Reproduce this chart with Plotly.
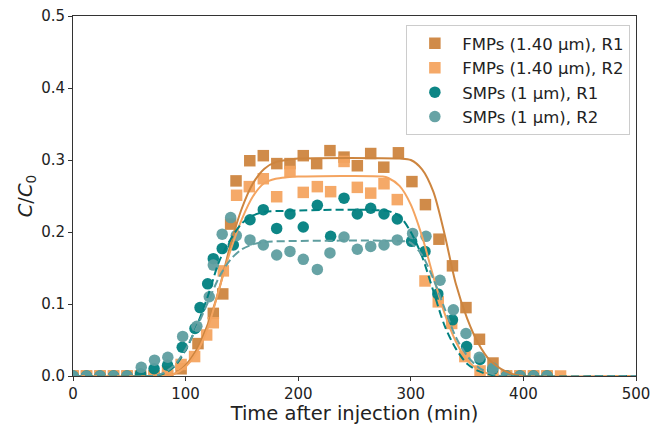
import plotly.graph_objects as go

# ---- observed data ----
fmp_r1_t = [0, 12, 24, 36, 48, 60, 72, 84, 96, 111, 124.6, 133, 140, 144.8, 157, 169, 181, 192.7,
            204.5, 216.4, 228.2, 240.7, 252.5, 264.4, 276, 289, 301, 313, 325, 337, 349, 361, 373,
            385, 397, 409, 421]
fmp_r1_v = [0, 0, 0, 0, 0, 0, 0, 0, 0.01, 0.045, 0.087, 0.114, 0.211, 0.271, 0.299, 0.306, 0.295, 0.295,
            0.306, 0.295, 0.313, 0.304, 0.292, 0.309, 0.290, 0.310, 0.270, 0.238, 0.190, 0.153, 0.095,
            0.051, 0.018, 0, 0, 0, 0]

fmp_r2_t = [0, 12, 24, 36, 48, 60, 72, 84, 96, 108, 118.7, 124.6, 133.5, 145.3, 156.6, 169, 180.9,
            192.7, 204.5, 217, 228.8, 240.7, 252.5, 264.4, 276.2, 288, 312.6, 324.4, 336.3, 348,
            361.5, 373, 385, 397, 409, 421, 433]
fmp_r2_v = [0, 0, 0, 0, 0, 0, 0, 0.006, 0.016, 0.027, 0.057, 0.074, 0.146, 0.251, 0.263, 0.274, 0.249,
            0.284, 0.255, 0.263, 0.256, 0.298, 0.262, 0.254, 0.267, 0.245, 0.132, 0.103, 0.073, 0.027,
            0.007, 0, 0, 0, 0, 0, 0]

smp_r1_t = [0, 12, 24, 36, 48, 60, 72, 84, 97, 108.3, 112.8, 119.6, 124.6, 132.5, 142.4, 157.2, 169,
            180.9, 192.7, 204.5, 217, 228.8, 240.7, 252.5, 264.4, 276.2, 288, 300.7, 312.6, 324,
            337, 349.6, 361.5, 372.7, 385, 397, 409, 421]
smp_r1_v = [0, 0, 0, 0, 0, 0.003, 0.01, 0.015, 0.04, 0.066, 0.095, 0.128, 0.163, 0.177, 0.182, 0.217,
            0.231, 0.205, 0.225, 0.207, 0.237, 0.194, 0.247, 0.225, 0.233, 0.225, 0.218, 0.187, 0.173,
            0.114, 0.078, 0.041, 0.023, 0.009, 0, 0, 0, 0]

smp_r2_t = [0, 12, 24, 36, 48, 60.6, 72.4, 84.2, 97.4, 110, 121, 124.6, 132.5, 140, 145, 157.2, 169,
            180.9, 192.7, 204.5, 217, 228.2, 240.7, 252.5, 264.4, 276.2, 288, 301.6, 313.5, 326,
            337.8, 349, 360.8, 373, 385, 397, 409, 421]
smp_r2_v = [0, 0, 0, 0, 0, 0.012, 0.022, 0.026, 0.055, 0.069, 0.11, 0.154, 0.197, 0.22, 0.195, 0.189,
            0.182, 0.168, 0.173, 0.162, 0.148, 0.171, 0.193, 0.176, 0.180, 0.182, 0.189, 0.198, 0.194,
            0.133, 0.092, 0.059, 0.026, 0.011, 0, 0, 0, 0]

# ---- fitted curves ----
fit_fmp_r1_t = [0, 80, 90, 100, 110, 120, 130, 140, 150, 160, 170, 180, 190, 200, 290, 300, 310, 320,
                330, 340, 350, 360, 370, 380, 390, 400, 500]
fit_fmp_r1_v = [0, 0, 0.003, 0.015, 0.037, 0.073, 0.122, 0.183, 0.233, 0.268, 0.288, 0.297, 0.300,
                0.302, 0.302, 0.300, 0.287, 0.256, 0.197, 0.128, 0.080, 0.045, 0.022, 0.010, 0.003, 0, 0]

fit_fmp_r2_t = [0, 80, 90, 100, 110, 120, 130, 140, 150, 160, 170, 180, 190, 200, 275, 280, 290, 300,
                310, 320, 330, 340, 350, 360, 370, 380, 500]
fit_fmp_r2_v = [0, 0, 0.003, 0.013, 0.033, 0.068, 0.122, 0.175, 0.218, 0.250, 0.268, 0.274, 0.276,
                0.277, 0.277, 0.275, 0.264, 0.238, 0.194, 0.138, 0.087, 0.048, 0.022, 0.009, 0.003, 0, 0]

fit_smp_r1_t = [0, 70, 80, 90, 100, 110, 120, 130, 140, 150, 160, 170, 180, 280, 290, 300, 310, 320,
                330, 340, 350, 360, 370, 380, 500]
fit_smp_r1_v = [0, 0, 0.003, 0.013, 0.036, 0.070, 0.112, 0.160, 0.190, 0.212, 0.223, 0.228, 0.229,
                0.229, 0.222, 0.200, 0.166, 0.118, 0.070, 0.038, 0.017, 0.007, 0.002, 0, 0]

fit_smp_r2_t = [0, 70, 80, 90, 100, 110, 120, 130, 140, 150, 160, 170, 180, 295, 300, 310, 320, 330,
                340, 350, 360, 370, 380, 500]
fit_smp_r2_v = [0, 0, 0.004, 0.015, 0.037, 0.068, 0.103, 0.138, 0.162, 0.176, 0.183, 0.186, 0.187,
                0.187, 0.185, 0.168, 0.135, 0.094, 0.054, 0.028, 0.012, 0.004, 0, 0]

labels = ["FMPs (1.40 μm), R1", "FMPs (1.40 μm), R2", "SMPs (1 μm), R1", "SMPs (1 μm), R2"]
colors = ["#CD853F", "#F4A460", "#008080", "#5F9EA0"]
symbols = ["square", "square", "circle", "circle"]

obs = [(fmp_r1_t, fmp_r1_v), (fmp_r2_t, fmp_r2_v), (smp_r1_t, smp_r1_v), (smp_r2_t, smp_r2_v)]
fits = [(fit_fmp_r1_t, fit_fmp_r1_v), (fit_fmp_r2_t, fit_fmp_r2_v),
        (fit_smp_r1_t, fit_smp_r1_v), (fit_smp_r2_t, fit_smp_r2_v)]
dashes = ["solid", "solid", "8px,4px", "8px,4px"]

fig = go.Figure()
for (t, v), lab, c, s in zip(obs, labels, colors, symbols):
    fig.add_trace(go.Scatter(x=t, y=v, mode="markers", name=lab,
                             marker=dict(symbol=s, size=11.5, color=c,
                                         opacity=0.95, line=dict(width=0))))
for (t, v), c, d in zip(fits, colors, dashes):
    fig.add_trace(go.Scatter(x=t, y=v, mode="lines", showlegend=False, hoverinfo="skip",
                             line=dict(color=c, width=2, dash=d, shape="spline", smoothing=0.8)))

axis_common = dict(showline=True, linecolor="#333333", linewidth=1, mirror=True, ticks="outside",
                   ticklen=4, tickcolor="#333333", showgrid=False, zeroline=False, automargin=False,
                   ticklabeloverflow="allow",
                   tickfont=dict(family="DejaVu Sans", size=15, color="#222222"))
fig.update_xaxes(range=[0, 500], tickvals=[0, 100, 200, 300, 400, 500],
                 title=dict(text="Time after injection (min)", standoff=4,
                            font=dict(family="DejaVu Sans", size=19.5, color="#222222")),
                 **axis_common)
fig.update_yaxes(range=[0, 0.5], tickvals=[0, 0.1, 0.2, 0.3, 0.4, 0.5], tickformat=".1f",
                 title=dict(text="<i>C</i>/<i>C</i><sub>0</sub>", standoff=3,
                            font=dict(family="DejaVu Sans", size=19.5, color="#222222")),
                 **axis_common)
fig.update_layout(
    width=653, height=425,
    margin=dict(l=73, r=17, t=16, b=49),
    plot_bgcolor="white", paper_bgcolor="white",
    font=dict(family="DejaVu Sans", color="#222222"),
    legend=dict(x=0.99, y=0.975, xanchor="right", yanchor="top",
                bgcolor="rgba(255,255,255,0.9)", bordercolor="#cccccc", borderwidth=1,
                font=dict(family="DejaVu Sans", size=16.5, color="#222222"),
                itemwidth=45, tracegroupgap=0),
    showlegend=True,
)
# remove the default page margin so the figure sits at the window's top-left corner
fig.write_html("out.html", config={"displayModeBar": False},
               post_script="document.body.style.margin='0';document.body.style.overflow='hidden';")
